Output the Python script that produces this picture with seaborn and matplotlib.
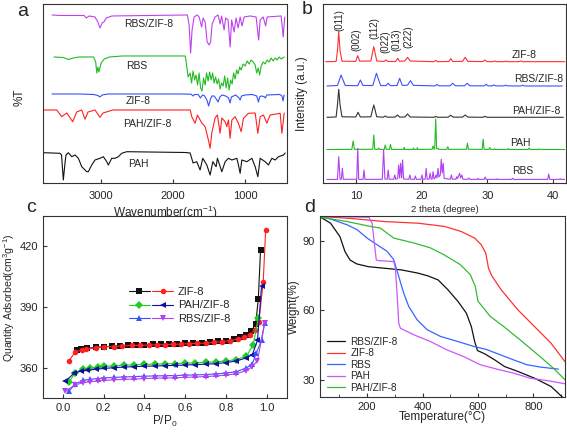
import matplotlib
matplotlib.use("Agg")
import matplotlib.pyplot as plt
from matplotlib.lines import Line2D
from matplotlib.legend_handler import HandlerTuple
import seaborn as sns

# ---- panel a: FTIR (wavenumber, %T in arbitrary stacked units) ----
ftir_rbs_zif8 = [(3675, 168), (3564, 167.5), (3230, 167.5), (3200, 165), (3160, 167), (3080, 166),
                 (3040, 161), (3010, 155), (2980, 160), (2955, 161), (2925, 165), (2845, 167),
                 (1800, 168), (1776, 158), (1755, 130), (1735, 153), (1707, 166), (1665, 168),
                 (1637, 166), (1603, 156), (1582, 165), (1554, 161), (1526, 141), (1499, 138),
                 (1478, 141), (1457, 159), (1416, 166), (1375, 168), (1347, 159), (1326, 167),
                 (1291, 153), (1270, 165), (1236, 163), (1208, 136), (1187, 163), (1153, 151),
                 (1125, 165), (1097, 155), (1069, 166), (1042, 157), (1014, 166), (931, 167),
                 (848, 166), (813, 143), (792, 163), (750, 166), (716, 157), (695, 166),
                 (501, 167), (473, 146), (452, 166)]
ftir_rbs = [(3648, 126), (3520, 125.5), (3450, 123.5), (3380, 125), (3300, 126), (3100, 126),
            (3070, 121), (3055, 110), (3040, 116), (3025, 111), (2995, 120), (2950, 124),
            (2880, 126), (2700, 127), (1830, 127), (1818, 122), (1790, 106), (1762, 110),
            (1742, 100), (1721, 112), (1700, 103), (1680, 108), (1659, 98), (1638, 110),
            (1617, 95), (1597, 92), (1576, 105), (1554, 98), (1534, 110), (1513, 102),
            (1492, 111), (1471, 103), (1450, 110), (1430, 100), (1409, 106), (1388, 99),
            (1367, 104), (1347, 94), (1326, 100), (1305, 97), (1284, 107), (1263, 95),
            (1243, 105), (1222, 93), (1201, 103), (1180, 99), (1160, 110), (1139, 104),
            (1118, 113), (1097, 109), (1076, 116), (1055, 113), (1028, 119), (1000, 117),
            (972, 122), (944, 119), (917, 123), (889, 121), (861, 118), (840, 110),
            (820, 115), (799, 108), (778, 117), (750, 121), (723, 119), (695, 123),
            (667, 121), (640, 125), (612, 122), (584, 125), (556, 123), (529, 126),
            (501, 124), (459, 126)]
ftir_zif8 = [(3675, 89), (3300, 89), (3100, 88.5), (3040, 87.5), (3010, 86), (2980, 88),
             (2900, 89), (1900, 89), (1750, 88.8), (1720, 87), (1700, 88.5), (1650, 88.5),
             (1620, 85), (1590, 88), (1560, 87), (1530, 83), (1505, 77), (1480, 84),
             (1460, 87), (1430, 87), (1400, 84), (1375, 81), (1350, 86), (1320, 88),
             (1270, 87), (1230, 85), (1208, 80), (1190, 86), (1130, 88), (1085, 85),
             (1069, 83), (1050, 87), (1000, 88), (900, 88.5), (840, 87), (815, 81),
             (800, 86), (780, 87), (740, 86.5), (720, 85), (700, 88), (520, 88.5),
             (490, 87), (475, 82), (460, 88)]
ftir_pah_zif8 = [(3790, 73), (3610, 73), (3540, 66.3), (3471, 70), (3388, 61.3), (3333, 71),
                 (3263, 73), (3218, 63.7), (3176, 71), (3079, 73), (3010, 65.7), (2968, 70),
                 (2830, 73), (1800, 73), (1760, 73), (1739, 66.3), (1693, 59.7), (1661, 68),
                 (1600, 60), (1554, 56.3), (1509, 43), (1485, 34.7), (1462, 50), (1416, 65),
                 (1384, 68), (1347, 49.7), (1323, 65), (1277, 61.3), (1254, 56.3), (1231, 63),
                 (1208, 44.7), (1184, 63), (1139, 66.3), (1093, 59.7), (1055, 51.3),
                 (1023, 64.7), (954, 69.7), (861, 70), (824, 49.7), (792, 66.3), (746, 68),
                 (699, 59.7), (654, 68), (515, 69.7), (491, 49.7), (459, 70)]
ftir_pah = [(3800, 30.3), (3564, 29.7), (3543, 28), (3518, 3), (3495, 20), (3481, 28),
            (3449, 30.3), (3402, 26.3), (3356, 28), (3310, 24.7), (3263, 16.3), (3194, 11.3),
            (3172, 11.3), (3125, 18), (3079, 23), (3010, 24.7), (2964, 26.3), (2917, 21.3),
            (2895, 18), (2848, 24.7), (2802, 24.7), (2756, 26.3), (2709, 29.7), (2640, 31.3),
            (1832, 30.5), (1762, 30), (1721, 20), (1670, 21.3), (1624, 13), (1587, 24.7),
            (1531, 18), (1485, 8), (1448, 21.3), (1402, 16.3), (1384, 24.7), (1323, 11.3),
            (1277, 21.3), (1231, 24.7), (1184, 23), (1115, 24.7), (1093, 18), (1069, 9.7),
            (1046, 23), (977, 21.3), (907, 24.7), (861, 16.3), (824, 6.3), (792, 24.7),
            (723, 21.3), (677, 18), (630, 24.7), (584, 23), (538, 26.3), (469, 28), (445, 30)]

# ---- panel b: XRD (2 theta, stacked intensity) ----
xrd_zif8 = [(5.3, 121.3), (6.9, 121.5), (7.1, 132), (7.3, 151.3), (7.5, 132), (7.8, 121.8),
            (9.9, 121.6), (10.2, 127.3), (10.5, 121.8), (12.2, 122), (12.45, 130), (12.65, 136.3),
            (12.85, 130), (13.1, 122), (14.2, 121.5), (14.5, 123), (14.8, 121.5), (16.0, 121.5),
            (16.3, 124.7), (16.6, 121.7), (17.4, 122), (17.8, 125.7), (18.2, 122), (21.8, 121.3),
            (22.1, 122.5), (22.4, 121.3), (24.1, 121.5), (24.4, 124.3), (24.7, 121.5),
            (26.2, 121.6), (26.6, 125.7), (27.0, 121.6), (29.3, 121.4), (29.6, 123), (29.9, 121.4),
            (30.8, 121.3), (31.1, 122), (31.4, 121.3), (32.5, 121.3), (32.8, 121.8), (33.1, 121.3),
            (34.8, 121.3), (35.1, 122), (35.4, 121.3), (41.8, 121.3)]
xrd_rbs_zif8 = [(5.5, 97), (7.1, 97.5), (7.4, 103), (7.65, 108), (7.95, 103), (8.3, 97.5),
                (10.2, 97.3), (10.6, 103), (11.0, 97.5), (12.5, 97.5), (12.8, 104), (13.05, 109.7),
                (13.35, 104), (13.7, 97.5), (14.5, 97.3), (14.85, 99.7), (15.2, 97.3), (16.2, 97.5),
                (16.6, 104.7), (17.0, 97.6), (17.8, 97.8), (18.25, 102.3), (18.7, 97.6),
                (22.0, 97.1), (22.3, 98.5), (22.6, 97.1), (24.3, 97.2), (24.7, 99.7), (25.1, 97.2),
                (26.5, 97.2), (26.9, 99.7), (27.3, 97.2), (29.5, 97.1), (29.8, 98.7), (30.1, 97.1),
                (30.7, 97.1), (31.0, 98), (31.3, 97.1), (32.5, 97.1), (32.8, 97.8), (33.1, 97.1),
                (35.1, 97), (35.4, 97.8), (35.7, 97), (41.4, 97)]
xrd_pah_zif8 = [(5.5, 65.7), (6.9, 66), (7.1, 78), (7.3, 93.7), (7.5, 78), (7.8, 66.2),
                (9.9, 66), (10.25, 70.7), (10.6, 66), (12.2, 66.2), (12.45, 73), (12.65, 78),
                (12.85, 73), (13.1, 66.2), (14.1, 65.8), (14.4, 67), (14.7, 65.8), (15.9, 65.9),
                (16.25, 68), (16.6, 65.9), (17.4, 66), (17.8, 69), (18.2, 66), (21.8, 65.7),
                (22.1, 66.5), (22.4, 65.7), (24.0, 65.8), (24.4, 67.7), (24.8, 65.8), (26.2, 65.9),
                (26.6, 68), (27.0, 65.9), (29.3, 65.7), (29.6, 66.7), (29.9, 65.7), (41.6, 65.7)]
xrd_pah = [(5.5, 33.5), (9.3, 33.6), (9.5, 42), (9.7, 33.6), (12.5, 33.7), (12.65, 48),
           (12.8, 33.7), (13.3, 33.6), (13.4, 35), (13.5, 33.6), (14.25, 33.6), (14.4, 38),
           (14.55, 33.6), (15.05, 33.6), (15.2, 38.7), (15.35, 33.6), (17.2, 33.5), (17.3, 35.7),
           (17.4, 33.5), (18.6, 33.5), (18.7, 35), (18.8, 33.5), (19.2, 33.5), (19.3, 35.3),
           (19.4, 33.5), (21.55, 33.7), (21.7, 37), (21.85, 33.8), (21.95, 34), (22.1, 64),
           (22.25, 34), (22.5, 34.5), (22.6, 33.6), (23.8, 33.6), (23.95, 36.3), (24.1, 33.6),
           (26.8, 33.7), (26.95, 39.7), (27.1, 33.7), (29.2, 33.6), (29.35, 43.7), (29.5, 33.6),
           (30.2, 33.5), (30.35, 35.5), (30.5, 33.5), (31.0, 33.5), (31.1, 34.3), (31.2, 33.5),
           (33.1, 33.5), (33.2, 34.5), (33.3, 33.5), (36.2, 33.5), (36.35, 35), (36.5, 33.5),
           (37.8, 33.5), (37.9, 34.2), (38.0, 33.5), (41.8, 33.5)]
xrd_rbs = [(5.5, 3.5), (7.1, 3.6), (7.3, 26.3), (7.5, 3.8), (7.7, 3.8), (7.85, 14.7), (8.0, 3.7),
           (10.05, 3.7), (10.2, 34.7), (10.35, 3.7), (11.0, 3.6), (11.15, 13), (11.3, 3.6),
           (13.95, 3.7), (14.15, 33), (14.35, 4), (14.7, 3.8), (14.85, 13), (15.0, 3.8),
           (15.7, 3.7), (15.85, 8), (16.0, 3.7), (16.3, 4.5), (16.45, 18), (16.6, 5),
           (16.75, 19.7), (16.9, 5), (17.05, 23), (17.2, 4), (18.0, 3.7), (18.15, 8), (18.3, 3.7),
           (18.85, 3.7), (19.0, 7), (19.15, 3.7), (19.85, 3.7), (20.0, 8), (20.15, 3.7),
           (20.5, 3.8), (20.65, 14.7), (20.8, 3.8), (21.1, 3.9), (21.25, 10), (21.4, 4),
           (21.55, 4), (21.7, 11.3), (21.85, 4), (22.0, 5), (22.15, 8), (22.3, 5), (22.45, 14.7),
           (22.6, 6), (22.8, 8), (22.95, 23.7), (23.1, 10), (23.25, 19.7), (23.4, 4.5),
           (24.35, 3.8), (24.5, 8), (24.65, 3.8), (25.2, 3.8), (25.3, 6.3), (25.45, 4.5),
           (25.75, 9.7), (25.9, 5), (26.1, 8), (26.25, 3.8), (27.0, 3.7), (27.15, 5), (27.3, 3.7),
           (28.4, 3.6), (28.55, 4.5), (28.7, 3.6), (29.5, 3.6), (29.65, 6), (29.8, 3.6),
           (31.4, 3.6), (31.5, 4.3), (31.6, 3.6), (33.7, 3.6), (33.85, 4.8), (34.0, 3.6),
           (39.2, 3.6), (39.35, 9), (39.5, 3.6), (41.0, 3.6), (41.1, 4.3), (41.2, 3.6), (41.8, 3.6)]
xrd_hkl = ["(011)", "(002)", "(112)", "(022)", "(013)", "(222)"]
xrd_hkl_pos = [7.4, 10.0, 12.7, 14.35, 16.1, 17.9]

# ---- panel c: N2 isotherms ----
p_zif8_a = [0.07, 0.09, 0.12, 0.16, 0.20, 0.24, 0.28, 0.32, 0.36, 0.40, 0.44, 0.48, 0.52, 0.56,
            0.60, 0.64, 0.68, 0.72, 0.76, 0.80, 0.84, 0.87, 0.90, 0.923, 0.946, 0.959, 0.970]
q_zif8_a = [368.6, 369.2, 369.6, 370.0, 370.3, 370.6, 370.8, 371.0, 371.2, 371.4, 371.5, 371.6,
            371.7, 371.9, 372.0, 372.2, 372.4, 372.6, 373.0, 373.4, 374.1, 375.0, 376.2, 377.9,
            381.5, 393.9, 418.4]
p_zif8_d = [0.028, 0.061, 0.094, 0.115, 0.16, 0.20, 0.25, 0.29, 0.34, 0.38, 0.42, 0.46, 0.50,
            0.54, 0.58, 0.62, 0.66, 0.70, 0.74, 0.78, 0.82, 0.86, 0.89, 0.92, 0.942, 0.962,
            0.983, 0.995]
q_zif8_d = [363.3, 367.9, 368.7, 369.1, 369.9, 370.4, 370.4, 370.8, 371.0, 371.0, 371.2, 371.3,
            371.4, 371.5, 371.7, 371.9, 372.0, 372.2, 372.5, 372.9, 373.4, 374.2, 375.0, 376.2,
            378.7, 382.8, 402.3, 427.9]
p_pah_a = [0.03, 0.06, 0.10, 0.13, 0.17, 0.20, 0.25, 0.30, 0.35, 0.40, 0.45, 0.50, 0.55, 0.60,
           0.65, 0.70, 0.75, 0.80, 0.85, 0.90, 0.934, 0.959]
q_pah_a = [353.0, 357.5, 359.3, 359.8, 360.3, 360.6, 360.9, 361.2, 361.4, 361.6, 361.7, 361.9,
           362.0, 362.2, 362.4, 362.6, 362.9, 363.3, 364.0, 365.6, 371.3, 384.5]
p_pah_d = [0.01, 0.056, 0.09, 0.12, 0.16, 0.20, 0.25, 0.30, 0.35, 0.40, 0.45, 0.50, 0.55, 0.60,
           0.65, 0.70, 0.75, 0.80, 0.85, 0.90, 0.93, 0.955, 0.975]
q_pah_d = [353.2, 357.4, 358.3, 358.7, 359.2, 359.6, 360.0, 360.3, 360.5, 360.7, 360.8, 361.0,
           361.1, 361.3, 361.5, 361.7, 362.0, 362.5, 363.3, 364.8, 366.5, 373.5, 400.5]
p_rbs_a = [0.03, 0.06, 0.10, 0.13, 0.17, 0.20, 0.25, 0.30, 0.35, 0.40, 0.45, 0.50, 0.55, 0.60,
           0.65, 0.70, 0.75, 0.80, 0.85, 0.90, 0.93, 0.95, 0.975, 0.99]
q_rbs_a = [348.5, 352.0, 353.8, 354.2, 354.6, 354.9, 355.2, 355.4, 355.6, 355.8, 355.9, 356.0,
           356.1, 356.3, 356.4, 356.6, 356.9, 357.3, 358.0, 359.8, 362.0, 367.5, 373.5, 382.0]
p_rbs_d = [0.01, 0.06, 0.10, 0.13, 0.17, 0.20, 0.25, 0.30, 0.35, 0.40, 0.45, 0.50, 0.55, 0.60,
           0.65, 0.70, 0.75, 0.80, 0.85, 0.90, 0.93, 0.955, 0.99]
q_rbs_d = [348.3, 351.5, 352.6, 353.0, 353.4, 353.7, 354.0, 354.2, 354.4, 354.6, 354.8, 354.9,
           355.0, 355.2, 355.4, 355.6, 355.9, 356.3, 357.0, 358.5, 360.5, 363.5, 382.2]

# ---- panel d: TGA ----
t_rbs_zif8 = [32, 68, 102, 120, 138, 162, 204, 264, 324, 384, 420, 456, 492, 528, 558, 576, 588,
              598, 624, 660, 696, 744, 804, 864, 906]
w_rbs_zif8 = [100.1, 97.5, 91.7, 85.3, 81.7, 80.0, 78.8, 78.1, 77.4, 76.0, 74.8, 73.1, 68.8, 63.8,
              58.8, 53.0, 46.6, 42.7, 41.3, 38.7, 35.8, 33.7, 30.8, 27.2, 22.5]
t_zif8 = [32, 136, 264, 384, 480, 540, 588, 612, 628, 638, 650, 684, 744, 804, 864, 914]
w_zif8 = [100.4, 99.6, 98.2, 97.5, 96.1, 93.9, 91.1, 88.2, 84.6, 78.1, 74.8, 68.8, 60.2, 53.0,
          45.8, 37.9]
t_rbs = [32, 68, 128, 164, 200, 236, 272, 296, 314, 332, 350, 380, 416, 464, 524, 584, 632, 680,
         728, 776, 824, 890]
w_rbs = [100.4, 99.3, 96.8, 94.7, 91.1, 88.2, 85.4, 81.8, 74.6, 67.4, 61.7, 56.0, 51.7, 48.8, 46.7,
         44.5, 43.1, 40.9, 38.7, 36.6, 35.6, 34.7]
t_pah = [32, 206, 218, 226, 233, 241, 296, 302, 308, 314, 320, 368, 428, 488, 548, 608, 668, 728,
         788, 848, 914]
w_pah = [100.4, 100.1, 97.5, 88.9, 81.7, 81.4, 81.0, 78.1, 67.4, 54.5, 52.3, 49.5, 46.6, 43.0,
         40.1, 36.6, 34.7, 33.0, 30.8, 29.8, 28.4]
t_pah_zif8 = [32, 128, 212, 248, 272, 296, 320, 368, 428, 476, 536, 572, 590, 600, 620, 644, 692,
              752, 824, 872, 914]
w_pah_zif8 = [100.1, 98.2, 96.1, 95.4, 93.2, 91.1, 90.4, 89.0, 86.9, 84.0, 79.7, 75.4, 70.4, 63.9,
              61.0, 57.4, 53.1, 47.3, 40.1, 35.1, 30.1]

sns.set_style("ticks")
plt.rcParams["font.family"] = ["Liberation Sans", "DejaVu Sans"]
plt.rcParams["xtick.direction"] = "in"
plt.rcParams["ytick.direction"] = "in"
plt.rcParams["mathtext.fontset"] = "custom"
plt.rcParams["mathtext.rm"] = "Liberation Sans"
plt.rcParams["mathtext.it"] = "Liberation Sans:italic"

fig = plt.figure(figsize=(5.67, 4.32), dpi=100)
ax_a = fig.add_axes([0.0758, 0.5764, 0.4304, 0.4144])
ax_b = fig.add_axes([0.5697, 0.5764, 0.4286, 0.4144])
ax_c = fig.add_axes([0.0753, 0.0787, 0.4309, 0.4213])
ax_d = fig.add_axes([0.5644, 0.0810, 0.4321, 0.4190])

for ax in (ax_a, ax_b, ax_c, ax_d):
    for sp in ax.spines.values():
        sp.set_color("#333333")
        sp.set_linewidth(0.8)
    ax.tick_params(labelsize=8, width=0.8, length=3, color="#333333", pad=3.5)
ax_a.tick_params(pad=5.5)
ax_b.tick_params(pad=5.5)


def draw(ax, pairs, color):
    xs = [p[0] for p in pairs]
    ys = [p[1] for p in pairs]
    sns.lineplot(x=xs, y=ys, ax=ax, color=color, lw=0.8, sort=False, estimator=None)


# panel a
for pairs, col in [(ftir_rbs_zif8, "#c040f0"), (ftir_rbs, "#22bb22"), (ftir_zif8, "#3050ff"),
                   (ftir_pah_zif8, "#ff2020"), (ftir_pah, "#111111")]:
    draw(ax_a, pairs, col)
ax_a.set_xlim(3800, 420)
ax_a.set_ylim(0, 179)
ax_a.set_xticks([3000, 2000, 1000])
ax_a.set_yticks([])
ax_a.set_xlabel("Wavenumber(cm$^{-1}$)", fontsize=8.5)
ax_a.xaxis.set_label_coords(0.5, -0.118)
ax_a.set_ylabel("%T", fontsize=8.5)
ax_a.yaxis.set_label_coords(-0.072, 0.48)
for txt, x, y in [("RBS/ZIF-8", 2330, 159), ("RBS", 2496, 117), ("ZIF-8", 2483, 82),
                  ("PAH/ZIF-8", 2358, 59), ("PAH", 2483, 19)]:
    ax_a.text(x, y, txt, fontsize=7.5, ha="center", va="center")

# panel b
for pairs, col in [(xrd_zif8, "#ff3030"), (xrd_rbs_zif8, "#4050ff"), (xrd_pah_zif8, "#333333"),
                   (xrd_pah, "#22bb22"), (xrd_rbs, "#b040f0")]:
    draw(ax_b, pairs, col)
ax_b.set_xlim(4.9, 42)
ax_b.set_ylim(0, 179)
ax_b.set_xticks([10, 20, 30, 40])
ax_b.set_yticks([])
ax_b.set_xlabel("2 theta (degree)", fontsize=6.8)
ax_b.xaxis.set_label_coords(0.5, -0.125)
ax_b.set_ylabel("Intensity (a.u.)", fontsize=8.5)
ax_b.yaxis.set_label_coords(-0.062, 0.5)
hkl_y = [163, 143, 154.7, 141.3, 143, 146.3]
for lab, x, y in zip(xrd_hkl, xrd_hkl_pos, hkl_y):
    ax_b.text(x, y, lab, rotation=90, fontsize=7, ha="center", va="center")
for txt, x, y in [("ZIF-8", 35.6, 128), ("RBS/ZIF-8", 37.75, 103.7), ("PAH/ZIF-8", 37.5, 72),
                  ("PAH", 35.0, 40.3), ("RBS", 35.4, 12.3)]:
    ax_b.text(x, y, txt, fontsize=7.5, ha="center", va="center")

# panel c
series_c = [(p_zif8_a, q_zif8_a, "#111111", "s"), (p_zif8_d, q_zif8_d, "#ff2020", "o"),
            (p_pah_a, q_pah_a, "#22cc22", "D"), (p_pah_d, q_pah_d, "#1010a0", "<"),
            (p_rbs_a, q_rbs_a, "#3355ff", "^"), (p_rbs_d, q_rbs_d, "#b040f0", "v")]
handles = []
for xs, ys, col, mk in series_c:
    sns.lineplot(x=xs, y=ys, ax=ax_c, color=col, lw=0.8, marker=mk, markersize=4,
                 markeredgewidth=0, sort=False, estimator=None)
    handles.append(Line2D([], [], color=col, lw=0.8, marker=mk, markersize=4, markeredgewidth=0))
ax_c.set_xlim(-0.1, 1.1)
ax_c.set_ylim(345, 435)
ax_c.set_xticks([0.0, 0.2, 0.4, 0.6, 0.8, 1.0])
ax_c.set_yticks([360, 390, 420])
ax_c.set_xlabel("P/P$_0$", fontsize=8.5)
ax_c.xaxis.set_label_coords(0.5, -0.088)
ax_c.set_ylabel("Quantity Adsorbed(cm$^3$g$^{-1}$)", fontsize=7.6)
ax_c.yaxis.set_label_coords(-0.106, 0.55)
ax_c.legend([(handles[0], handles[1]), (handles[2], handles[3]), (handles[4], handles[5])],
            ["ZIF-8", "PAH/ZIF-8", "RBS/ZIF-8"],
            handler_map={tuple: HandlerTuple(ndivide=None, pad=0.2)},
            loc="upper left", bbox_to_anchor=(0.33, 0.64), frameon=False, fontsize=8,
            handlelength=4.0, labelspacing=0.3, borderpad=0, handletextpad=0.4)

# panel d
for xs, ys, col, lab in [(t_rbs_zif8, w_rbs_zif8, "#111111", "RBS/ZIF-8"),
                         (t_zif8, w_zif8, "#ff3030", "ZIF-8"),
                         (t_rbs, w_rbs, "#3366ff", "RBS"),
                         (t_pah, w_pah, "#cc55ff", "PAH"),
                         (t_pah_zif8, w_pah_zif8, "#33bb33", "PAH/ZIF-8")]:
    sns.lineplot(x=xs, y=ys, ax=ax_d, color=col, lw=0.9, sort=False, estimator=None, label=lab)
ax_d.set_xlim(30, 914)
ax_d.set_ylim(22.7, 100.6)
ax_d.set_xticks([200, 400, 600, 800])
ax_d.set_xticks([100, 300, 500, 700, 900], minor=True)
ax_d.set_yticks([30, 60, 90])
ax_d.tick_params(which="minor", length=2, width=0.6, color="#333333")
ax_d.set_xlabel("Temperature(\u00b0C)", fontsize=8.5)
ax_d.set_ylabel("Weight(%)", fontsize=8.5)
ax_d.xaxis.set_label_coords(0.5, -0.078)
ax_d.yaxis.set_label_coords(-0.082, 0.5)
ax_d.legend(loc="lower left", bbox_to_anchor=(0.01, -0.005), frameon=False, fontsize=7.2,
            handlelength=1.8, labelspacing=0.15, borderpad=0, handletextpad=0.5)

for lab, x, y in [("a", 23, 12), ("b", 307, 10), ("c", 31, 207), ("d", 310, 207)]:
    fig.text(x / 567, 1 - y / 432, lab, fontsize=14, ha="center", va="center")

fig.savefig("out.png", dpi=100)
